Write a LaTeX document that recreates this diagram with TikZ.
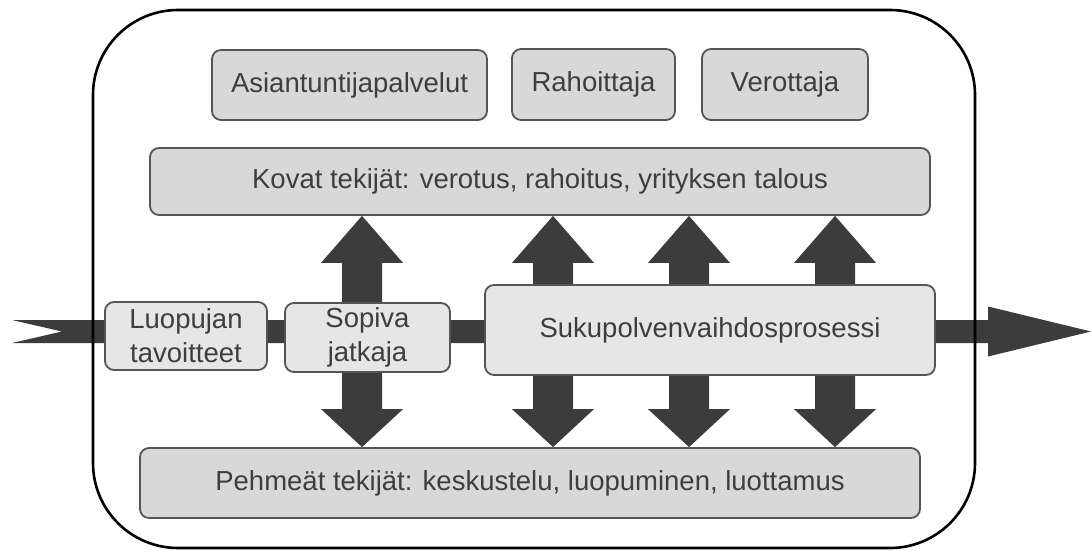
\documentclass[tikz,border=0pt]{standalone}
\usepackage{fontspec}
\setmainfont{Liberation Sans}
\usetikzlibrary{calc}
\pgfdeclarelayer{background}
\pgfsetlayers{background,main}

\definecolor{boxfill}{HTML}{D8D8D8}
\definecolor{procfill}{HTML}{E6E6E6}
\definecolor{boxline}{HTML}{555555}
\definecolor{arrowfill}{HTML}{3C3C3C}
\definecolor{textgray}{HTML}{3E3E3E}

\begin{document}
\begin{tikzpicture}[x=1pt,y=-1pt,
  box/.style={draw=boxline, line width=1.8pt, fill=boxfill, rounded corners=9pt,
    inner sep=0pt, text=textgray, font=\fontsize{27.5}{34}\selectfont, align=center},
  proc/.style={box, fill=procfill},
  blockarrow/.style={fill=arrowfill},
  frame/.style={draw=black, line width=2.6pt, rounded corners=85pt}]

\useasboundingbox (0,0) rectangle (1092,551);

% outer frame
\draw[frame] (93,10) rectangle (975,548);

% actors
\node[box, minimum width=275pt, minimum height=70pt] (asi) at (349.5,85) {Asiantuntijapalvelut};
\node[box, minimum width=163pt, minimum height=71pt] (rah) at (593.5,84.5) {Rahoittaja};
\node[box, minimum width=166pt, minimum height=71pt] (ver) at (785,84.5) {Verottaja};

% factor bars
\node[box, minimum width=780pt, minimum height=67pt] (kovat) at (540,181.5)
  {Kovat tekijät: verotus, rahoitus, yrityksen talous};
\node[box, minimum width=780pt, minimum height=70pt] (pehmea) at (530,483)
  {Pehmeät tekijät: keskustelu, luopuminen, luottamus};

% process steps
\node[proc, minimum width=162pt, minimum height=68pt] (luop) at (186,336) {Luopujan\\tavoitteet};
\node[proc, minimum width=165pt, minimum height=69pt] (sopiva) at (367.5,337.5) {Sopiva\\jatkaja};
\node[proc, minimum width=450pt, minimum height=90pt] (suku) at (710,330) {Sukupolvenvaihdosprosessi};

\coordinate (src) at (12,331.5);
\coordinate (dst) at (1091,331.5);

\begin{pgfonlayer}{background}
  % main process flow
  \fill[blockarrow] ($(src)+(0,-11.5)$) -- ($(dst)+(-103,-11.5)$) -- ($(dst)+(-103,-25)$)
    -- (dst) -- ($(dst)+(-103,25)$) -- ($(dst)+(-103,11.5)$)
    -- ($(src)+(0,11.5)$) -- ($(src)+(50,0)$) -- cycle;
  % two-way links between the factor bars
  \foreach \x [count=\i] in {362,553,689,835} {
    \coordinate (ax\i) at (\x,0);
    \fill[blockarrow] (kovat.south -| ax\i) -- ++(41,47) -- ++(-21,0)
      -- ($(pehmea.north -| ax\i)+(20,-38)$) -- ++(21,0) -- (pehmea.north -| ax\i)
      -- ++(-41,-38) -- ++(21,0) -- ($(kovat.south -| ax\i)+(-20,47)$) -- ++(-21,0) -- cycle;
  }
\end{pgfonlayer}
\end{tikzpicture}
\end{document}
